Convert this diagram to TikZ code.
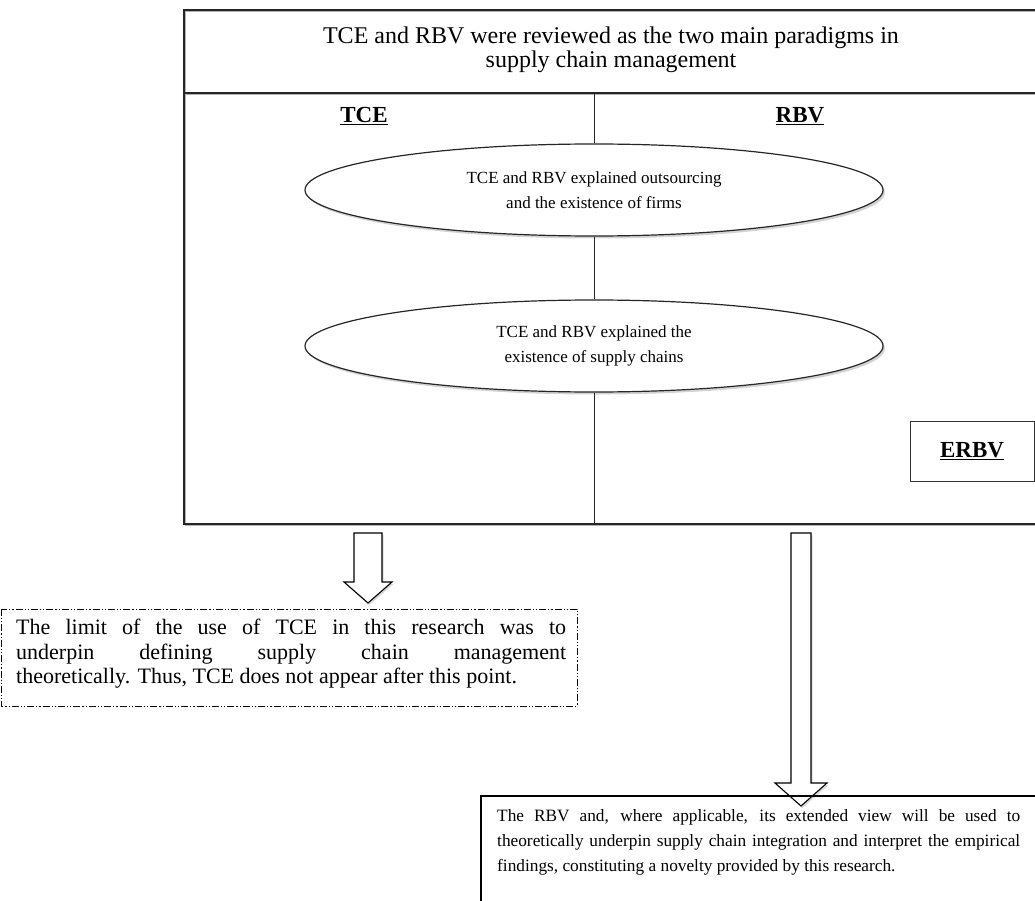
\documentclass[tikz,border=0pt]{standalone}
\usepackage{fontspec}
\setmainfont{Liberation Serif}
\usetikzlibrary{shapes.geometric,shadows}
\begin{document}
\begin{tikzpicture}[x=1pt,y=-1pt,
  txt/.style={font=\fontsize{17}{24.5}\selectfont},
  headtxt/.style={font=\fontsize{24}{24}\selectfont},
  labeltxt/.style={font=\fontsize{23}{24}\selectfont\bfseries},
  frame/.style={line width=1.2pt,draw=black!85},
  frameshade/.style={line width=1.2pt,draw=black!30},
  thin/.style={line width=0.8pt,draw=black!85},
  oval/.style={ellipse,draw=black!85,line width=1.2pt,fill=white,minimum width=578pt,minimum height=92pt,
    align=center,txt,drop shadow={shadow xshift=2pt,shadow yshift=-2.5pt,opacity=0.35}},
  blockarrow/.style={draw=black,line width=1.1pt,fill=white,
    drop shadow={shadow xshift=1.5pt,shadow yshift=-2pt,opacity=0.3}},
  dashdot/.style={line width=0.9pt,dash pattern=on 7pt off 2pt on 1.2pt off 2pt on 1.2pt off 2pt},
]
\useasboundingbox (0,0) rectangle (1035,901);

% outer frame with header row (soft shade under the rules)
\begin{scope}[shift={(1.2,1.6)}]
  \draw[frameshade] (1040,10) -- (184,10) -- (184,524) -- (1040,524);
  \draw[frameshade] (184,93) -- (1040,93);
\end{scope}
\draw[frame] (1040,10) -- (184,10) -- (184,524) -- (1040,524);
\draw[frame] (184,93) -- (1040,93);
\node[headtxt,align=center] (hdr) at (611,50) {TCE and RBV were reviewed as the two main paradigms in\\supply chain management};

% column headings
\node[labeltxt] (tce) at (364,116) {\underline{TCE}};
\node[labeltxt] (rbv) at (800,116) {\underline{RBV}};

% column divider and ovals
\coordinate (divtop) at (594,93);
\coordinate (divbot) at (594,524);
\node[oval] (e1) at (594,190) {TCE and RBV explained outsourcing\\and the existence of firms};
\node[oval] (e2) at (594,346) {TCE and RBV explained the\\existence of supply chains};
\draw[thin] (divtop) -- (e1.north);
\draw[thin] (e1.south) -- (e2.north);
\draw[thin] (e2.south) -- (divbot);

% extended view box
\node[draw=black!80,line width=1pt,minimum width=124pt,minimum height=60pt,labeltxt] (erbv) at (972,451) {\underline{ERBV}};

% hollow block arrows
\coordinate (la) at (368,533);
\draw[blockarrow] (la) ++(-14,0) -- ++(0,49) -- ++(-10,0) -- ++(24,21) -- ++(24,-21) -- ++(-10,0) -- ++(0,-49) -- cycle;
\coordinate (ra) at (801,533);
\draw[blockarrow] (ra) ++(-10,0) -- ++(0,250) -- ++(-16,0) -- ++(26,23) -- ++(26,-23) -- ++(-16,0) -- ++(0,-250) -- cycle;

% note on TCE
\draw[dashdot] (1,609) rectangle (577,706);
\node[font=\fontsize{22}{24.5}\selectfont,anchor=north west,text width=550pt,align=justify,inner sep=0pt] (limit) at (16,619)
  {The limit of the use of TCE in this research was to\linebreak underpin defining supply chain management\linebreak theoretically. Thus, TCE does not appear after this point.};

% conclusion box
\draw[line width=2.6pt] (1040,796) -- (481,796) -- (481,905);
\node[font=\fontsize{17.3}{25}\selectfont,anchor=north west,text width=523pt,align=justify,inner sep=0pt] (rbvtext) at (497,809)
  {The RBV and, where applicable, its extended view will be used to\linebreak theoretically underpin supply chain integration and interpret the empirical\linebreak findings, constituting a novelty provided by this research.};
\end{tikzpicture}
\end{document}
